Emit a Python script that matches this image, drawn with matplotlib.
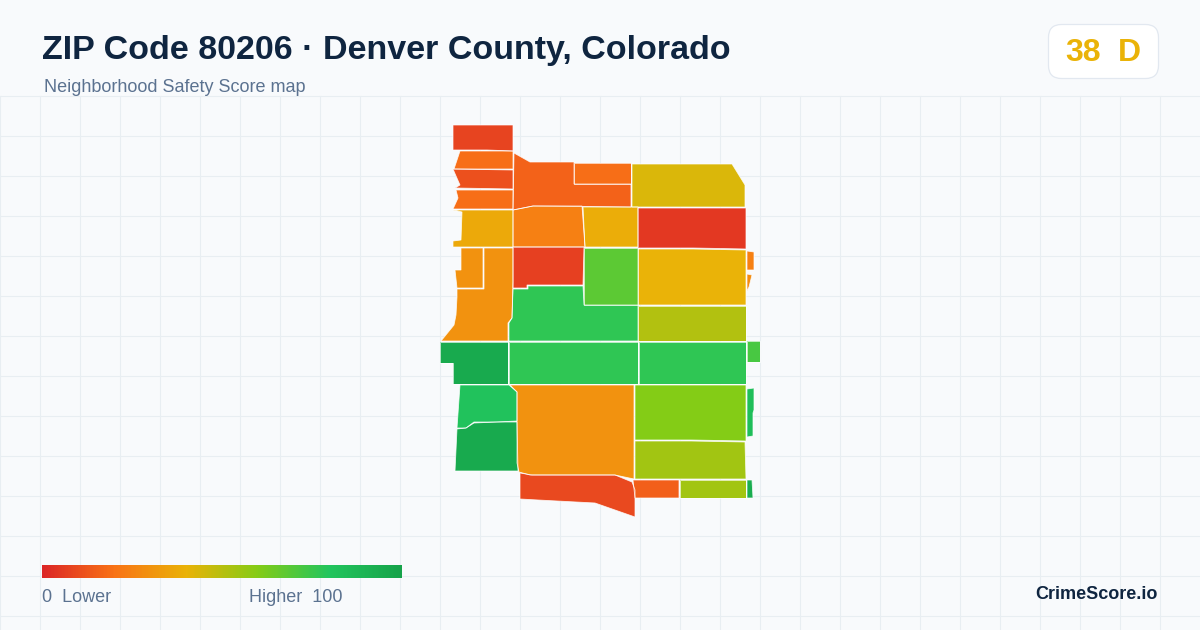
import matplotlib
matplotlib.use("Agg")
import matplotlib.pyplot as plt
import numpy as np
from matplotlib.colors import LinearSegmentedColormap
from matplotlib.patches import FancyBboxPatch, Polygon

plt.rcParams['font.family'] = ['Liberation Sans', 'DejaVu Sans']

TITLE = "ZIP Code 80206 · Denver County, Colorado"
SUBTITLE = "Neighborhood Safety Score map"
SCORE = 38
GRADE = "D"

# score scale, same stops as the legend bar
SCALE_POS = [0.0, 0.2, 0.4, 0.6, 0.8, 1.0]
SCALE_COLORS = ["#dc2626", "#f97316", "#eab308", "#84cc16", "#22c55e", "#16a34a"]

# neighborhood scores
scores = [8, 19, 11, 19, 37, 24, 16, 19, 43, 38, 5, 40, 24, 28, 7, 68, 77, 30, 30,
          96, 77, 77, 72, 51, 82, 96, 30, 9, 60, 54, 15, 54, 84, 94]

# outlines of the neighborhoods, in map pixels (same order as scores)
shapes = [
    [(453, 125), (513, 125), (513, 151), (487, 150), (453, 150)],
    [(460, 151), (513, 151), (513, 169), (454, 169)],
    [(453, 169), (513, 170), (513, 189), (455, 188), (460, 185), (456, 176)],
    [(456, 190), (513, 190), (513, 209), (453, 209), (458, 198)],
    [(453, 210), (513, 210), (513, 247), (453, 247), (453, 241), (461, 240), (462, 212)],
    [(513, 210), (533, 206), (582, 206), (585, 247), (513, 247)],
    [(514, 153), (530, 162), (574, 162), (574, 184), (631, 184), (631, 207), (533, 206), (513, 210)],
    [(574, 163), (631, 163), (631, 184), (574, 184)],
    [(632, 164), (732, 164), (745, 185), (745, 207), (632, 207)],
    [(583, 207), (638, 207), (638, 247), (585, 247)],
    [(638, 208), (746, 208), (746, 249), (693, 248), (638, 248)],
    [(638, 249), (693, 249), (746, 250), (746, 305), (638, 305)],
    [(747, 251), (754, 252), (754, 270), (747, 270)],
    [(747, 274), (752, 275), (749, 287), (747, 291)],
    [(513, 247), (584, 247), (583, 285), (527, 285), (527, 288), (513, 288)],
    [(584, 248), (638, 248), (638, 305), (584, 305)],
    [(513, 289), (528, 289), (528, 286), (583, 286), (584, 305), (638, 305), (638, 341),
     (509, 341), (509, 323), (512, 318)],
    [(484, 248), (513, 248), (513, 282), (512, 318), (508, 323), (508, 341), (441, 341),
     (454, 325), (456, 315), (457, 297), (457, 289), (484, 289)],
    [(461, 248), (483, 248), (483, 288), (457, 288), (455, 270), (461, 270)],
    [(440, 342), (508, 342), (508, 384), (453, 384), (453, 363), (440, 363)],
    [(509, 342), (638, 342), (638, 384), (509, 384)],
    [(639, 342), (746, 342), (746, 384), (639, 384)],
    [(747, 341), (760, 341), (760, 362), (747, 362)],
    [(638, 306), (746, 306), (746, 341), (638, 341)],
    [(460, 385), (509, 385), (517, 392), (517, 421), (497, 422), (474, 422), (466, 428), (457, 428)],
    [(457, 429), (466, 428), (474, 423), (497, 422), (517, 422), (518, 471), (455, 471)],
    [(510, 385), (634, 385), (634, 479), (615, 475), (530, 475), (519, 472), (517, 463), (517, 392)],
    [(520, 473), (532, 475), (615, 475), (632, 482), (635, 490), (635, 517), (595, 503),
     (538, 500), (520, 499)],
    [(635, 385), (746, 385), (746, 441), (691, 440), (635, 440)],
    [(635, 441), (691, 441), (745, 442), (746, 479), (635, 479)],
    [(633, 480), (679, 480), (679, 498), (635, 498)],
    [(680, 480), (746, 480), (746, 498), (680, 498)],
    [(747, 389), (754, 388), (754, 410), (753, 413), (753, 436), (747, 437)],
    [(747, 480), (752, 480), (753, 498), (747, 498)],
]

cmap = LinearSegmentedColormap.from_list("safety", list(zip(SCALE_POS, SCALE_COLORS)))

fig = plt.figure(figsize=(12, 6.3), dpi=100, facecolor="#f8fafc")
ax = fig.add_axes([0, 0, 1, 1])
ax.set_xlim(0, 1200)
ax.set_ylim(630, 0)
ax.axis("off")

# background grid, only below the header
for x in range(0, 1200, 40):
    ax.plot([x, x], [96, 630], color="#e8eef2", lw=0.8, zorder=1)
for y in range(96, 630, 40):
    ax.plot([0, 1200], [y, y], color="#e8eef2", lw=0.8, zorder=1)

for shape, score in zip(shapes, scores):
    ax.add_patch(Polygon(shape, closed=True, facecolor=cmap(score / 100),
                         edgecolor="none", zorder=2))
    ax.add_patch(Polygon(shape, closed=True, facecolor="none",
                         edgecolor="#ffffff", lw=0.6, alpha=0.8, zorder=3))

ax.text(42, 50.5, TITLE, fontsize=24.5, fontweight="bold", color="#0f2540",
        ha="left", va="center", zorder=5)
ax.text(44, 87, SUBTITLE, fontsize=12.95, color="#5b7290", ha="left", va="center", zorder=5)

# score badge
ax.add_patch(FancyBboxPatch((1048.5, 24.5), 110, 54, boxstyle="round,pad=0,rounding_size=13",
                            facecolor="#ffffff", edgecolor="#e2e8f0", lw=0.9, zorder=4))
ax.text(1083, 53, str(SCORE), fontsize=23, fontweight="bold", color="#eab308",
        ha="center", va="center", zorder=5)
ax.text(1129, 53, GRADE, fontsize=23, fontweight="bold", color="#eab308",
        ha="center", va="center", zorder=5)

# legend bar
grad = np.linspace(0, 1, 360).reshape(1, -1)
ax.imshow(grad, cmap=cmap, extent=(42, 402, 578, 565), aspect="auto", zorder=4)
ax.set_xlim(0, 1200)
ax.set_ylim(630, 0)
ax.text(42, 598, "0  Lower", fontsize=12.95, color="#5b7290", ha="left", va="center", zorder=5)
ax.text(249, 598, "Higher  100", fontsize=12.95, color="#5b7290", ha="left", va="center", zorder=5)

ax.text(1158, 594.5, "CrimeScore.io", fontsize=13, fontweight="bold", color="#0f2540",
        ha="right", va="center", zorder=5)

fig.savefig("out.png", dpi=100, facecolor=fig.get_facecolor())
